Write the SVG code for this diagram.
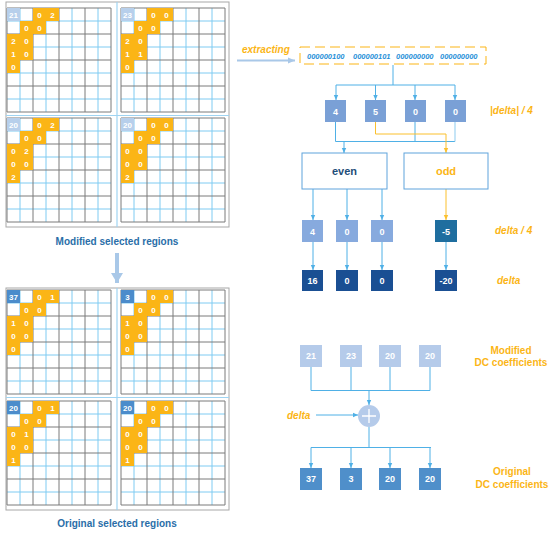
<svg xmlns="http://www.w3.org/2000/svg" xmlns:xlink="http://www.w3.org/1999/xlink" width="550" height="533" viewBox="0 0 550 533">
<style>
text{font-family:"Liberation Sans",Arial,sans-serif;font-weight:bold}
.g{fill:none;stroke:#7a7a7a;stroke-width:1}
.b{fill:none;stroke:#7fcbf2;stroke-width:1}
.o{fill:#fbb516}
.dm{fill:#b7cfeb}
.do{fill:#4b8ccb}
.ct{fill:#fff;font-size:8px;text-anchor:middle}
.frame{fill:none;stroke:#a8a8a8;stroke-width:1}
.sep{stroke:#9fd4f2;stroke-width:1.2}
.cap{fill:#2a6ea8;font-size:10px;text-anchor:middle}
.lbl{fill:#fbb516;font-size:10px;font-style:italic}
.lbl2{fill:#fbb516;font-size:10px;text-anchor:middle}
.cn{fill:none;stroke:#4fb0e6;stroke-width:1}
.cno{fill:none;stroke:#fbc02d;stroke-width:1}
.bx{stroke:none}
.bt{fill:#fff;font-size:9px;text-anchor:middle}
</style>
<defs>
<marker id="ab" markerWidth="6" markerHeight="6" refX="5" refY="3" orient="auto" markerUnits="userSpaceOnUse"><path d="M0,0.8 L5,3 L0,5.2 Z" fill="#4fb0e6"/></marker>
<marker id="ao" markerWidth="6" markerHeight="6" refX="5" refY="3" orient="auto" markerUnits="userSpaceOnUse"><path d="M0,0.8 L5,3 L0,5.2 Z" fill="#fbc02d"/></marker>
<marker id="abig" markerWidth="12" markerHeight="12" refX="10" refY="6" orient="auto" markerUnits="userSpaceOnUse"><path d="M0,0 L10,6 L0,12 Z" fill="#a9c8e8"/></marker>
<marker id="asm" markerWidth="8" markerHeight="8" refX="7" refY="4" orient="auto" markerUnits="userSpaceOnUse"><path d="M0,1 L7,4 L0,7 Z" fill="#a9c8e8"/></marker>
<g id="grid">
<path class="b" d="M13 0V104M39 0V104M65 0V104M91 0V104M0 13H104M0 39H104M0 65H104M0 91H104"/>
<path class="g" d="M0 0V104M26 0V104M52 0V104M78 0V104M104 0V104M0 0H104M0 26H104M0 52H104M0 78H104M0 104H104"/>
</g>
<g id="cells">
<rect class="o" x="26" y="0" width="26" height="13"/>
<rect class="o" x="13" y="13" width="26" height="13"/>
<rect class="o" x="0" y="26" width="26" height="26"/>
<rect class="o" x="0" y="52" width="13" height="13"/>
</g>
</defs>

<!-- Modified selected regions -->
<g id="modified">
<rect class="frame" x="6" y="2" width="223" height="225"/>
<line class="sep" x1="117" y1="2" x2="117" y2="227"/>
<line class="sep" x1="6" y1="115.5" x2="229" y2="115.5"/>
<g id="mod-tl" transform="translate(7,8)">
<use xlink:href="#grid"/><use xlink:href="#cells"/>
<rect class="dm" x="0" y="0" width="13" height="13"/>
<text class="ct" x="6.5" y="9.5">21</text>
<text class="ct" x="32.5" y="9.5">0</text><text class="ct" x="45.5" y="9.5">2</text>
<text class="ct" x="19.5" y="22.5">0</text><text class="ct" x="32.5" y="22.5">0</text>
<text class="ct" x="6.5" y="35.5">2</text><text class="ct" x="19.5" y="35.5">0</text>
<text class="ct" x="6.5" y="48.5">1</text><text class="ct" x="19.5" y="48.5">0</text>
<text class="ct" x="6.5" y="61.5">0</text>
</g>
<g id="mod-tr" transform="translate(121,8)">
<use xlink:href="#grid"/><use xlink:href="#cells"/>
<rect class="dm" x="0" y="0" width="13" height="13"/>
<text class="ct" x="6.5" y="9.5">23</text>
<text class="ct" x="32.5" y="9.5">0</text><text class="ct" x="45.5" y="9.5">0</text>
<text class="ct" x="19.5" y="22.5">0</text><text class="ct" x="32.5" y="22.5">0</text>
<text class="ct" x="6.5" y="35.5">2</text><text class="ct" x="19.5" y="35.5">0</text>
<text class="ct" x="6.5" y="48.5">1</text><text class="ct" x="19.5" y="48.5">1</text>
<text class="ct" x="6.5" y="61.5">0</text>
</g>
<g id="mod-bl" transform="translate(7,118)">
<use xlink:href="#grid"/><use xlink:href="#cells"/>
<rect class="dm" x="0" y="0" width="13" height="13"/>
<text class="ct" x="6.5" y="9.5">20</text>
<text class="ct" x="32.5" y="9.5">0</text><text class="ct" x="45.5" y="9.5">2</text>
<text class="ct" x="19.5" y="22.5">0</text><text class="ct" x="32.5" y="22.5">0</text>
<text class="ct" x="6.5" y="35.5">0</text><text class="ct" x="19.5" y="35.5">2</text>
<text class="ct" x="6.5" y="48.5">0</text><text class="ct" x="19.5" y="48.5">0</text>
<text class="ct" x="6.5" y="61.5">2</text>
</g>
<g id="mod-br" transform="translate(121,118)">
<use xlink:href="#grid"/><use xlink:href="#cells"/>
<rect class="dm" x="0" y="0" width="13" height="13"/>
<text class="ct" x="6.5" y="9.5">20</text>
<text class="ct" x="32.5" y="9.5">0</text><text class="ct" x="45.5" y="9.5">0</text>
<text class="ct" x="19.5" y="22.5">0</text><text class="ct" x="32.5" y="22.5">0</text>
<text class="ct" x="6.5" y="35.5">0</text><text class="ct" x="19.5" y="35.5">0</text>
<text class="ct" x="6.5" y="48.5">0</text><text class="ct" x="19.5" y="48.5">0</text>
<text class="ct" x="6.5" y="61.5">2</text>
</g>
<text class="cap" x="117" y="245">Modified selected regions</text>
</g>

<!-- Original selected regions -->
<g id="original">
<rect class="frame" x="6" y="288" width="223" height="222"/>
<line class="sep" x1="117" y1="288" x2="117" y2="510"/>
<line class="sep" x1="6" y1="397.5" x2="229" y2="397.5"/>
<g id="orig-tl" transform="translate(7,290)">
<use xlink:href="#grid"/><use xlink:href="#cells"/>
<rect class="do" x="0" y="0" width="13" height="13"/>
<text class="ct" x="6.5" y="9.5">37</text>
<text class="ct" x="32.5" y="9.5">0</text><text class="ct" x="45.5" y="9.5">1</text>
<text class="ct" x="19.5" y="22.5">0</text><text class="ct" x="32.5" y="22.5">0</text>
<text class="ct" x="6.5" y="35.5">1</text><text class="ct" x="19.5" y="35.5">0</text>
<text class="ct" x="6.5" y="48.5">0</text><text class="ct" x="19.5" y="48.5">0</text>
<text class="ct" x="6.5" y="61.5">0</text>
</g>
<g id="orig-tr" transform="translate(121,290)">
<use xlink:href="#grid"/><use xlink:href="#cells"/>
<rect class="do" x="0" y="0" width="13" height="13"/>
<text class="ct" x="6.5" y="9.5">3</text>
<text class="ct" x="32.5" y="9.5">0</text><text class="ct" x="45.5" y="9.5">0</text>
<text class="ct" x="19.5" y="22.5">0</text><text class="ct" x="32.5" y="22.5">0</text>
<text class="ct" x="6.5" y="35.5">1</text><text class="ct" x="19.5" y="35.5">0</text>
<text class="ct" x="6.5" y="48.5">0</text><text class="ct" x="19.5" y="48.5">0</text>
<text class="ct" x="6.5" y="61.5">0</text>
</g>
<g id="orig-bl" transform="translate(7,401)">
<use xlink:href="#grid"/><use xlink:href="#cells"/>
<rect class="do" x="0" y="0" width="13" height="13"/>
<text class="ct" x="6.5" y="9.5">20</text>
<text class="ct" x="32.5" y="9.5">0</text><text class="ct" x="45.5" y="9.5">1</text>
<text class="ct" x="19.5" y="22.5">0</text><text class="ct" x="32.5" y="22.5">0</text>
<text class="ct" x="6.5" y="35.5">0</text><text class="ct" x="19.5" y="35.5">1</text>
<text class="ct" x="6.5" y="48.5">0</text><text class="ct" x="19.5" y="48.5">0</text>
<text class="ct" x="6.5" y="61.5">1</text>
</g>
<g id="orig-br" transform="translate(121,401)">
<use xlink:href="#grid"/><use xlink:href="#cells"/>
<rect class="do" x="0" y="0" width="13" height="13"/>
<text class="ct" x="6.5" y="9.5">20</text>
<text class="ct" x="32.5" y="9.5">0</text><text class="ct" x="45.5" y="9.5">0</text>
<text class="ct" x="19.5" y="22.5">0</text><text class="ct" x="32.5" y="22.5">0</text>
<text class="ct" x="6.5" y="35.5">0</text><text class="ct" x="19.5" y="35.5">0</text>
<text class="ct" x="6.5" y="48.5">0</text><text class="ct" x="19.5" y="48.5">0</text>
<text class="ct" x="6.5" y="61.5">1</text>
</g>
<text class="cap" x="117" y="527">Original selected regions</text>
</g>

<!-- Connectors -->
<g id="connectors">
<line x1="117" y1="253" x2="117" y2="283" stroke="#a9c8e8" stroke-width="4" marker-end="url(#abig)"/>
<line x1="237" y1="60.5" x2="295" y2="60.5" stroke="#a9c8e8" stroke-width="2" marker-end="url(#asm)"/>
<path class="cn" d="M393 65V85M336 85H455"/>
<path class="cn" d="M336 85V100" marker-end="url(#ab)"/>
<path class="cn" d="M375.5 85V100" marker-end="url(#ab)"/>
<path class="cn" d="M415 85V100" marker-end="url(#ab)"/>
<path class="cn" d="M455 85V100" marker-end="url(#ab)"/>
<path class="cn" d="M335.5 122V141.5H455M415 122V141.5"/>
<path d="M455 122V141.5" fill="none" stroke="#9fd4f2" stroke-width="1.2"/>
<path class="cn" d="M344 141.5V153" marker-end="url(#ab)"/>
<path class="cno" d="M375.5 122V134H446V153" marker-end="url(#ao)"/>
<path class="cn" d="M313 189V220" marker-end="url(#ab)"/>
<path class="cn" d="M347 189V220" marker-end="url(#ab)"/>
<path class="cn" d="M382 189V220" marker-end="url(#ab)"/>
<path class="cno" d="M446 189V220" marker-end="url(#ao)"/>
<path class="cn" d="M313 242V270" marker-end="url(#ab)"/>
<path class="cn" d="M347 242V270" marker-end="url(#ab)"/>
<path class="cn" d="M382 242V270" marker-end="url(#ab)"/>
<path class="cn" d="M446 242V270" marker-end="url(#ab)"/>
<path class="cn" d="M311 367V390.5H430M351 367V390.5M390 367V390.5M430 367V390.5"/>
<path class="cn" d="M369 390.5V405" marker-end="url(#ab)"/>
<path class="cn" d="M316 415H358" marker-end="url(#ab)"/>
<path class="cn" d="M369 427V447.5M311 447.5H431"/>
<path class="cn" d="M311 447.5V468" marker-end="url(#ab)"/>
<path class="cn" d="M351 447.5V468" marker-end="url(#ab)"/>
<path class="cn" d="M390 447.5V468" marker-end="url(#ab)"/>
<path class="cn" d="M430 447.5V468" marker-end="url(#ab)"/>
</g>

<!-- Right-side nodes -->
<text class="lbl" x="242" y="53">extracting</text>
<g id="bitstream">
<rect x="300" y="47" width="186" height="17" fill="none" stroke="#fbb516" stroke-width="1" stroke-dasharray="10,5"/>
<g font-size="7.5" fill="#1f8fd8" font-style="italic">
<text x="307" y="58.5" style="font-weight:bold">000000100</text>
<text x="353" y="58.5" style="font-weight:bold">000000101</text>
<text x="396" y="58.5" style="font-weight:bold">000000000</text>
<text x="440" y="58.5" style="font-weight:bold">000000000</text>
</g>
</g>
<g id="absdelta">
<rect class="bx" x="325" y="100" width="21" height="22" fill="#7aa0d6"/>
<rect class="bx" x="365" y="100" width="21" height="22" fill="#7aa0d6"/>
<rect class="bx" x="405" y="100" width="21" height="22" fill="#7aa0d6"/>
<rect class="bx" x="445" y="100" width="21" height="22" fill="#7aa0d6"/>
<text class="bt" x="335.5" y="114.5">4</text>
<text class="bt" x="375.5" y="114.5">5</text>
<text class="bt" x="415.5" y="114.5">0</text>
<text class="bt" x="455.5" y="114.5">0</text>
<text class="lbl" x="490" y="114">|delta| / 4</text>
</g>
<g id="even">
<rect x="302" y="153" width="85" height="36" fill="#fff" stroke="#5fa3dc" stroke-width="1"/>
<text x="344.5" y="175" font-size="11" fill="#1f4e79" text-anchor="middle">even</text>
</g>
<g id="odd">
<rect x="404" y="153" width="84" height="36" fill="#fff" stroke="#5fa3dc" stroke-width="1"/>
<text x="446" y="175" font-size="11" fill="#fbb516" text-anchor="middle">odd</text>
</g>
<g id="delta4">
<rect class="bx" x="302" y="220" width="21" height="22" fill="#87aade"/>
<rect class="bx" x="336" y="220" width="22" height="22" fill="#87aade"/>
<rect class="bx" x="371" y="220" width="22" height="22" fill="#87aade"/>
<rect class="bx" x="435" y="220" width="22" height="22" fill="#1f6e9f"/>
<text class="bt" x="312.5" y="234.5">4</text>
<text class="bt" x="347" y="234.5">0</text>
<text class="bt" x="382" y="234.5">0</text>
<text class="bt" x="446" y="234.5">-5</text>
<text class="lbl" x="495" y="234">delta / 4</text>
</g>
<g id="delta">
<rect class="bx" x="302" y="270" width="21" height="21" fill="#1a4f93"/>
<rect class="bx" x="336" y="270" width="22" height="21" fill="#1a4f93"/>
<rect class="bx" x="371" y="270" width="22" height="21" fill="#1a4f93"/>
<rect class="bx" x="435" y="270" width="22" height="21" fill="#1a4f93"/>
<text class="bt" x="312.5" y="284">16</text>
<text class="bt" x="347" y="284">0</text>
<text class="bt" x="382" y="284">0</text>
<text class="bt" x="446" y="284">-20</text>
<text class="lbl" x="497" y="284">delta</text>
</g>
<g id="modified-dc">
<rect class="bx" x="300" y="345" width="22" height="22" fill="#b5cbea"/>
<rect class="bx" x="340" y="345" width="22" height="22" fill="#b5cbea"/>
<rect class="bx" x="379" y="345" width="22" height="22" fill="#b5cbea"/>
<rect class="bx" x="419" y="345" width="22" height="22" fill="#b5cbea"/>
<text class="bt" x="311" y="359">21</text>
<text class="bt" x="351" y="359">23</text>
<text class="bt" x="390" y="359">20</text>
<text class="bt" x="430" y="359">20</text>
<text class="lbl2" x="511" y="354">Modified</text>
<text class="lbl2" x="511" y="366">DC coefficients</text>
</g>
<g id="adder">
<circle cx="369" cy="416" r="11" fill="#b5cbea"/>
<path d="M362 416H376M369 409V423" stroke="#fff" stroke-width="1.3"/>
<text class="lbl" x="287" y="419">delta</text>
</g>
<g id="original-dc">
<rect class="bx" x="300" y="468" width="22" height="22" fill="#4f8fca"/>
<rect class="bx" x="340" y="468" width="22" height="22" fill="#4f8fca"/>
<rect class="bx" x="379" y="468" width="22" height="22" fill="#4f8fca"/>
<rect class="bx" x="419" y="468" width="22" height="22" fill="#4f8fca"/>
<text class="bt" x="311" y="482">37</text>
<text class="bt" x="351" y="482">3</text>
<text class="bt" x="390" y="482">20</text>
<text class="bt" x="430" y="482">20</text>
<text class="lbl2" x="512" y="475">Original</text>
<text class="lbl2" x="512" y="488">DC coefficients</text>
</g>
</svg>
